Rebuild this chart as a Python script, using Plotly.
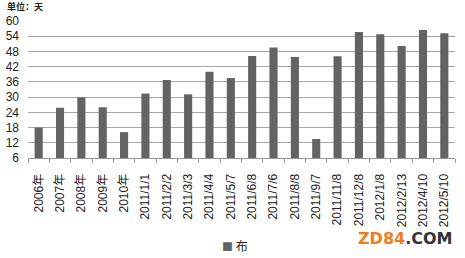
import plotly.graph_objects as go

categories = ["2006年", "2007年", "2008年", "2009年", "2010年", "2011/1/1", "2011/2/2",
              "2011/3/3", "2011/4/4", "2011/5/7", "2011/6/8", "2011/7/6", "2011/8/8",
              "2011/9/7", "2011/11/8", "2011/12/8", "2012/1/8", "2012/2/13", "2012/4/10",
              "2012/5/10"]
values = [18.0, 25.8, 29.9, 26.0, 16.2, 31.4, 36.7, 31.1, 40.0, 37.5, 46.2, 49.6, 45.8,
          13.5, 46.1, 55.7, 54.8, 50.1, 56.5, 55.2]
series_name = "布"
y_ticks = [6, 12, 18, 24, 30, 36, 42, 48, 54, 60]

font_main = "Liberation Sans, Noto Sans CJK SC, sans-serif"
bar_color = "#636363"

fig = go.Figure()
fig.add_trace(go.Bar(x=categories, y=values, name=series_name,
                     marker=dict(color=bar_color, line=dict(width=0)),
                     showlegend=False))

fig.update_layout(
    width=465, height=258,
    margin=dict(l=28, r=10, t=21, b=100, autoexpand=False),
    paper_bgcolor="white", plot_bgcolor="white",
    bargap=0.62,
    font=dict(family=font_main, color="#333333"),
    xaxis=dict(type="category", tickson="boundaries", ticks="outside", ticklen=4,
               tickcolor="#999999", showline=True, linecolor="#999999", linewidth=1,
               tickangle=-90, tickfont=dict(size=12, color="#222222"),
               ticklabelstandoff=10, automargin=False, showgrid=False),
    yaxis=dict(range=[6, 60], tickvals=y_ticks, showgrid=True, gridcolor="#a6a6a6",
               gridwidth=1, zeroline=False, showline=False, automargin=False,
               tickfont=dict(size=12, color="#222222"), ticks="", ticklabelstandoff=8),
    annotations=[
        dict(text="<b>单位：天</b>", x=0, y=1, xref="paper", yref="paper",
             xshift=-23, yshift=15, xanchor="left", yanchor="middle", showarrow=False,
             font=dict(size=9, color="#222222", family="Noto Sans CJK SC")),
        dict(text=f"<span style='color:{bar_color};font-size:11px'>■</span> {series_name}",
             x=0.485, y=0, xref="paper", yref="paper", xanchor="center", yanchor="middle",
             yshift=-87, showarrow=False,
             font=dict(size=12, color="#222222", family="Noto Sans CJK SC")),
        dict(text="<b><span style='color:#f07c1e'>ZD84</span><span style='color:#333333'>.COM</span></b>",
             x=1, y=0, xref="paper", yref="paper", xanchor="right", yanchor="middle",
             yshift=-80, xshift=0, showarrow=False,
             font=dict(size=16, family="DejaVu Sans")),
    ],
)

fig.write_html("out.html")
